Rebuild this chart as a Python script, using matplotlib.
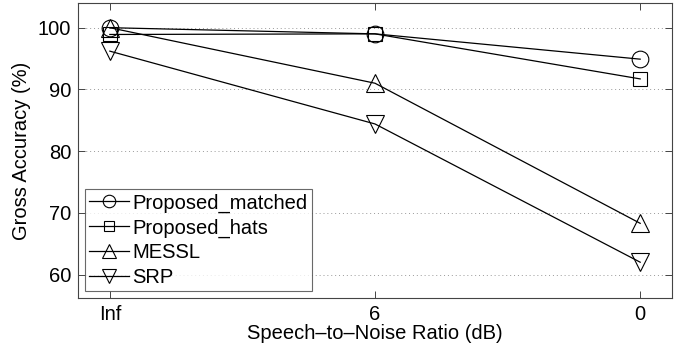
import matplotlib
matplotlib.use("Agg")
import matplotlib.pyplot as plt

plt.rcParams['font.family'] = ['Liberation Sans', 'DejaVu Sans']

categories = ["Inf", "6", "0"]
proposed_matched = [100.0, 99.0, 94.9]
proposed_hats = [98.9, 99.0, 91.7]
messl = [100.0, 91.0, 68.3]
srp = [96.2, 84.4, 62.0]
yticks = [60, 70, 80, 90, 100]

series = [
    ("Proposed_matched", proposed_matched, "o", 12),
    ("Proposed_hats", proposed_hats, "s", 10),
    ("MESSL", messl, "^", 13),
    ("SRP", srp, "v", 13),
]

fs = 14.5
fig = plt.figure(figsize=(6.79, 3.49), dpi=100)
ax = fig.add_axes([78/679, 1 - 298/349, (672-78)/679, (298-3)/349])

x = list(range(len(categories)))
for name, vals, m, ms in series:
    ax.plot(x, vals, color='black', lw=0.9, marker=m, markersize=ms,
            markerfacecolor='none', markeredgecolor='black', markeredgewidth=0.8,
            label=name)

ax.set_xlim(-0.12, 2.12)
ax.set_ylim(56.2, 104)
ax.set_xticks(x)
ax.set_xticklabels(categories)
ax.set_yticks(yticks)
ax.yaxis.grid(True, linestyle=(0, (1, 3)), color='#999999', lw=0.7)
ax.tick_params(direction='in', top=True, right=True, labelsize=fs, length=5, width=0.7,
               color='#444444', pad=5)
for s in ax.spines.values():
    s.set_color('#444444')
    s.set_linewidth(0.8)
ax.set_xlabel("Speech\u2013to\u2013Noise Ratio (dB)", fontsize=fs, labelpad=0)
ax.set_ylabel("Gross Accuracy (%)", fontsize=fs, labelpad=5)

leg = ax.legend(loc='lower left', fontsize=fs, frameon=True, fancybox=False,
                edgecolor='#444444', handlelength=2.0, handletextpad=0.15,
                borderpad=0.2, labelspacing=0.28, borderaxespad=0.35,
                markerscale=0.75)
leg.get_frame().set_linewidth(0.8)

fig.savefig("out.png", dpi=100)
